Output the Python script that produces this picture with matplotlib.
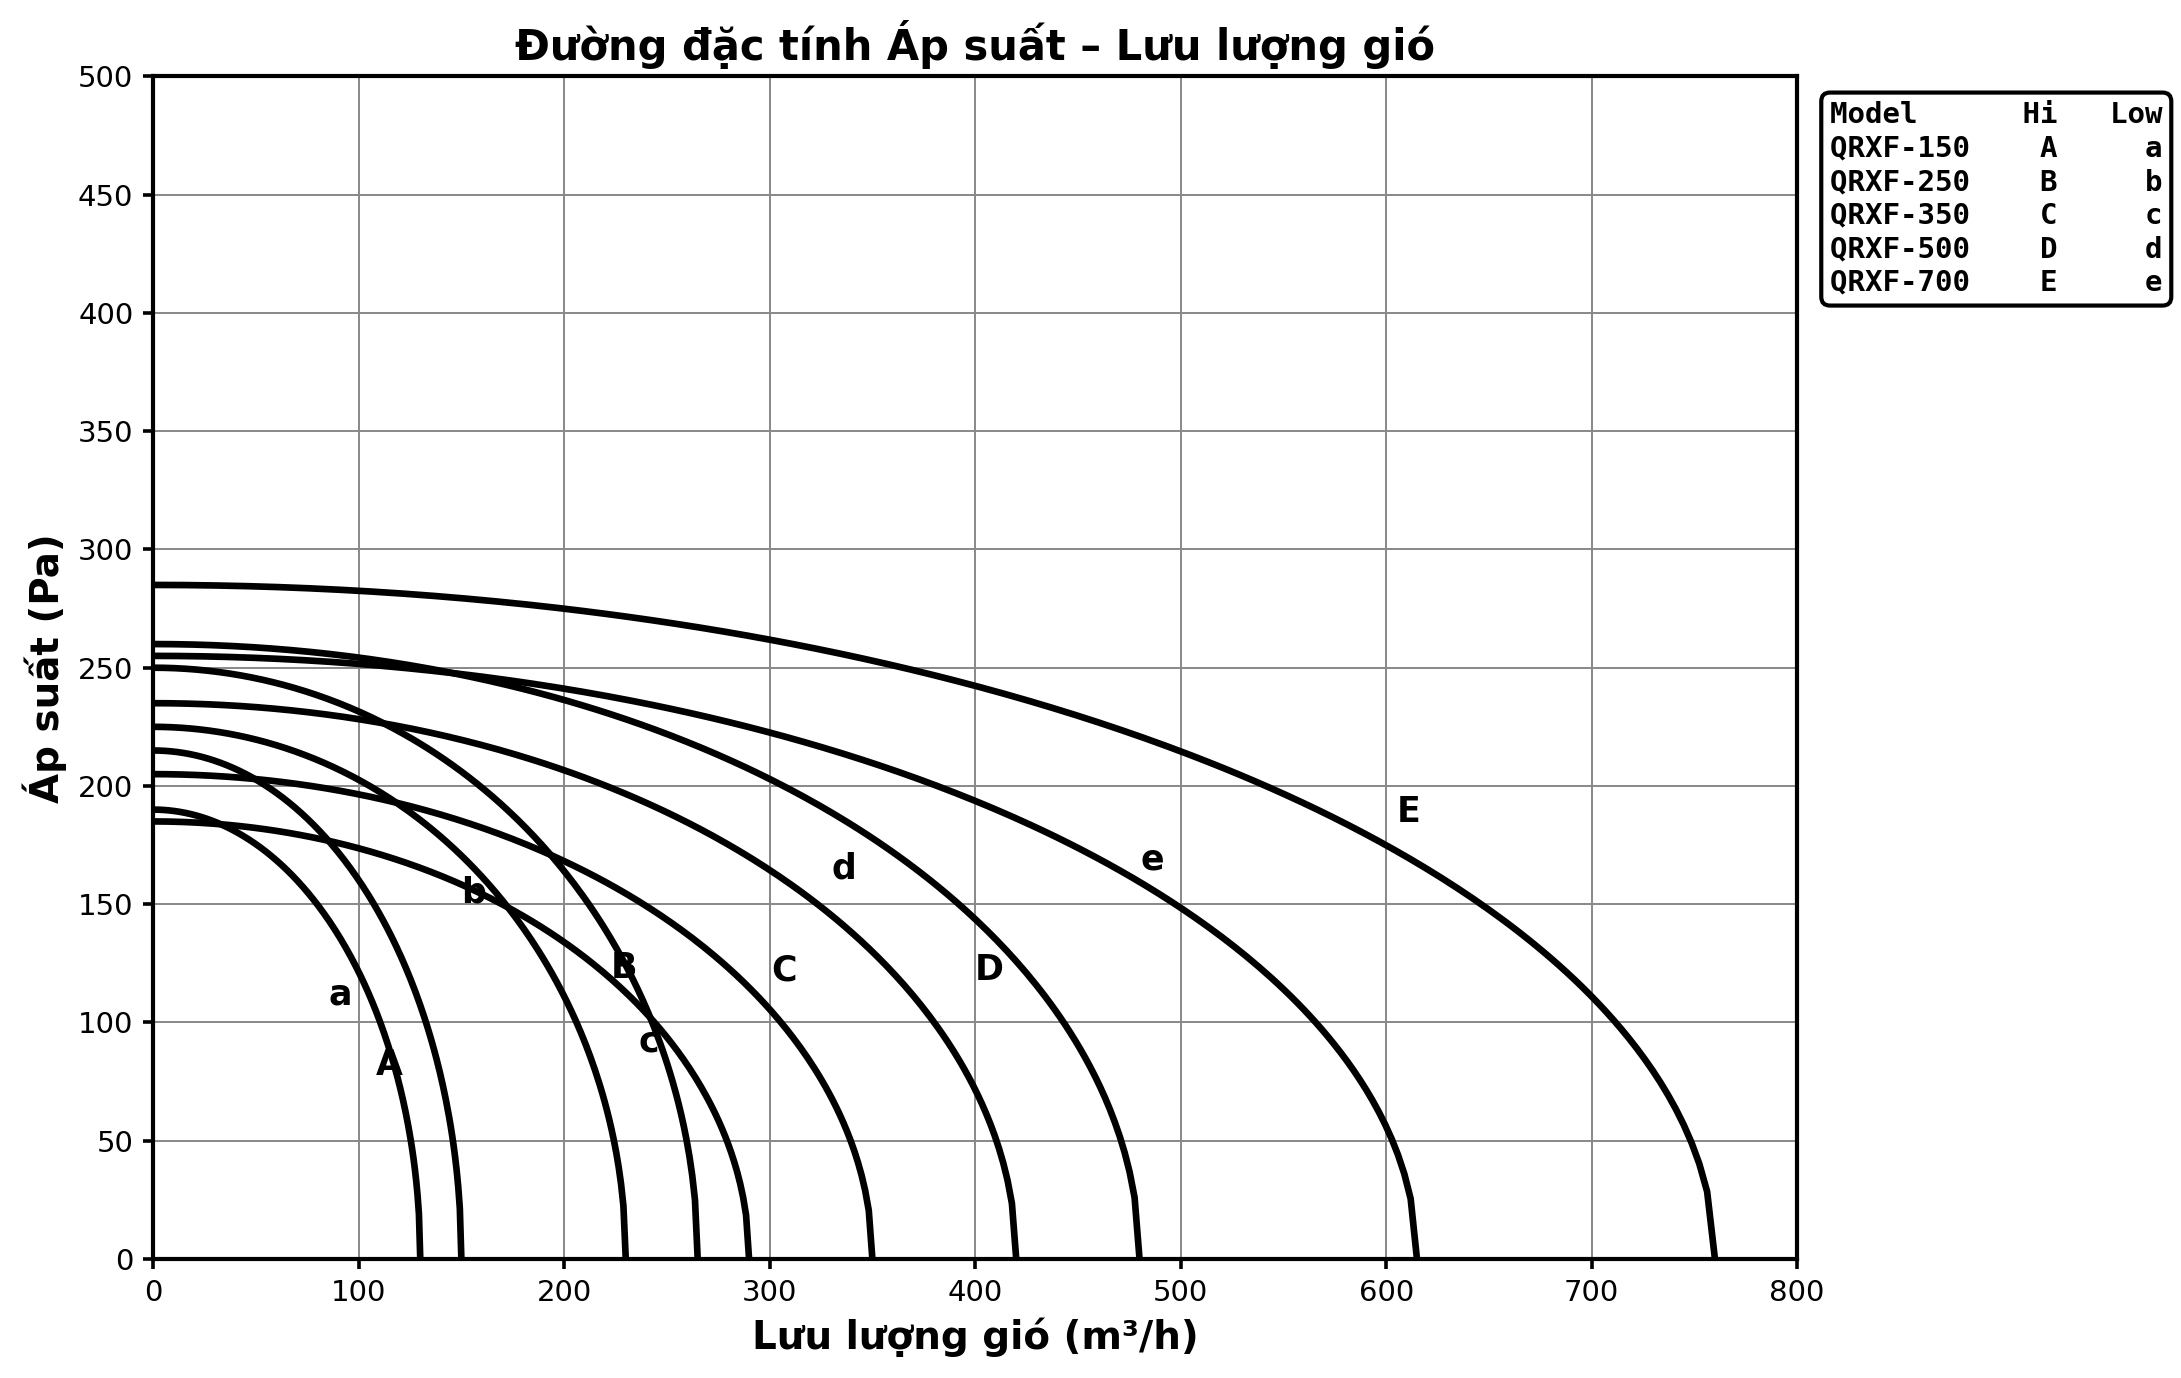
import numpy as np
import matplotlib
matplotlib.use("Agg")
import matplotlib.pyplot as plt

# Data: shut-off pressure (Pa) and maximum flow (m3/h) of each curve
p_max = [190, 215, 225, 250, 185, 205, 235, 260, 255, 285]
q_max = [130, 150, 230, 265, 290, 350, 420, 480, 615, 760]

# Curve labels and their positions (flow, pressure)
label_text = ["a", "A", "b", "B", "c", "C", "d", "D", "e", "E"]
label_q = [91, 115, 156, 229, 241, 307, 336, 407, 486, 611]
label_p = [112, 82, 155, 123, 92, 122, 165, 122, 169, 189]

models = ["QRXF-150", "QRXF-250", "QRXF-350", "QRXF-500", "QRXF-700"]
hi_codes = ["A", "B", "C", "D", "E"]
low_codes = ["a", "b", "c", "d", "e"]

x_ticks = [0, 100, 200, 300, 400, 500, 600, 700, 800]
y_ticks = [0, 50, 100, 150, 200, 250, 300, 350, 400, 450, 500]

fig = plt.figure(figsize=(2181 / 200, 1378 / 200), dpi=200)
ax = fig.add_axes([0.0702, 0.0864, 0.7538, 0.8581])

for p0, qm in zip(p_max, q_max):
    q = np.linspace(0, qm, 201)
    p = p0 * np.sqrt(np.clip(1 - (q / qm) ** 2, 0, None))
    ax.plot(q, p, color="black", lw=2.4, solid_capstyle="butt", zorder=3)

for t, xq, yp in zip(label_text, label_q, label_p):
    ax.text(xq, yp, t, fontsize=12.5, fontweight="bold", ha="center", va="center", zorder=4)

ax.set_xlim(0, 800)
ax.set_ylim(0, 500)
ax.set_xticks(x_ticks)
ax.set_yticks(y_ticks)
ax.grid(True, color="#888888", lw=0.7, zorder=0)
ax.set_axisbelow(True)
for s in ax.spines.values():
    s.set_linewidth(1.5)
ax.tick_params(axis="both", labelsize=10.5, width=1.3, length=3.6)

ax.set_title("Đường đặc tính Áp suất – Lưu lượng gió", fontsize=15, fontweight="bold", pad=6)
ax.set_xlabel("Lưu lượng gió (m³/h)", fontsize=14, fontweight="bold")
ax.set_ylabel("Áp suất (Pa)", fontsize=14, fontweight="bold")

lines = [f"{'Model':<10}{'Hi':^5}{'Low':>4}"]
for m, h, l in zip(models, hi_codes, low_codes):
    lines.append(f"{m:<10}{h:^5}{l:>4}")
ax.text(1.02, 0.979, "\n".join(lines), transform=ax.transAxes, ha="left", va="top",
        family="DejaVu Sans Mono", fontweight="bold", fontsize=10.5, linespacing=1.25,
        bbox=dict(boxstyle="round,pad=0.3", facecolor="white", edgecolor="black", lw=1.5))

fig.savefig("out.png", dpi=200)
